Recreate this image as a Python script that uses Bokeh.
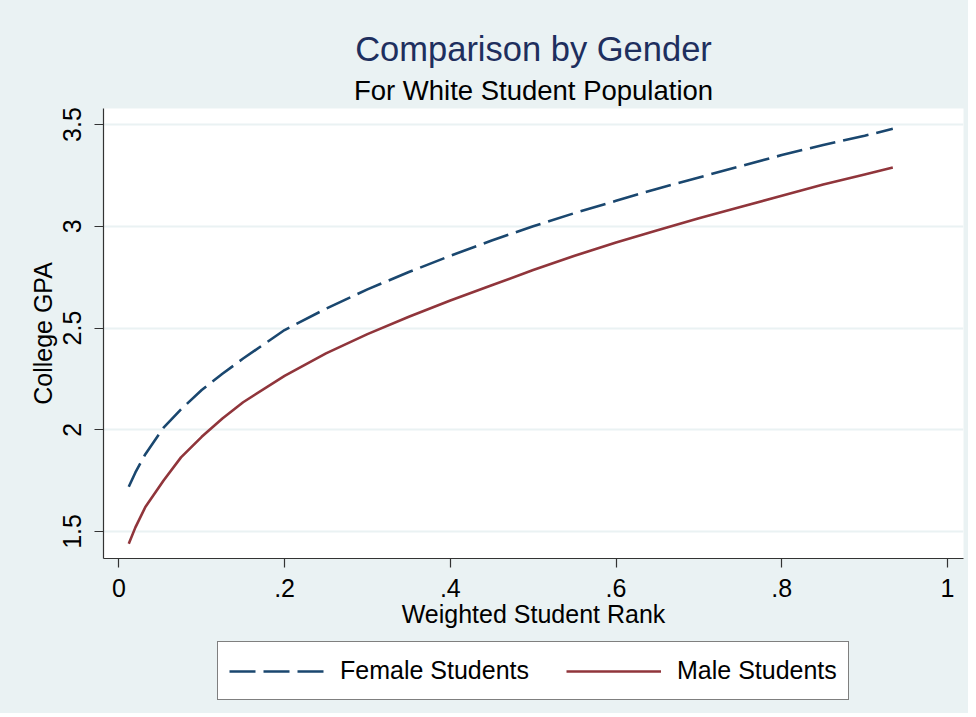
from bokeh.plotting import figure
from bokeh.layouts import column
from bokeh.models import (ColumnDataSource, Range1d, FixedTicker, Title, Legend,
                          LegendItem)
from bokeh.embed import file_html
from bokeh.resources import INLINE

# ---- data ----
rank = [0.012, 0.02, 0.032, 0.054, 0.075, 0.10, 0.125, 0.15, 0.20, 0.25, 0.30,
        0.35, 0.40, 0.45, 0.50, 0.55, 0.60, 0.65, 0.70, 0.75, 0.80, 0.85, 0.90,
        0.934]
female_gpa = [1.72, 1.79, 1.88, 2.01, 2.10, 2.195, 2.275, 2.35, 2.49, 2.595, 2.69,
              2.775, 2.855, 2.93, 3.00, 3.065, 3.125, 3.185, 3.24, 3.295, 3.35,
              3.40, 3.445, 3.479]
male_gpa = [1.44, 1.52, 1.62, 1.75, 1.864, 1.965, 2.055, 2.135, 2.265, 2.375, 2.47,
            2.555, 2.635, 2.71, 2.785, 2.855, 2.92, 2.98, 3.04, 3.095, 3.15,
            3.205, 3.255, 3.289]

x_ticks = [0, 0.2, 0.4, 0.6, 0.8, 1.0]
x_tick_labels = ["0", ".2", ".4", ".6", ".8", "1"]
y_ticks = [1.5, 2.0, 2.5, 3.0, 3.5]
y_tick_labels = ["1.5", "2", "2.5", "3", "3.5"]

series_names = ["Female Students", "Male Students"]
title_text = "Comparison by Gender"
subtitle_text = "For White Student Population"
x_label = "Weighted Student Rank"
y_label = "College GPA"

# ---- styles ----
BG = "#EAF2F3"
FEMALE_C = "#1A476F"
MALE_C = "#90353B"
TITLE_C = "#1E2F5E"
AXIS_C = "#333333"
FONT = "Liberation Sans"
FEMALE_DASH = "26 8"

src = ColumnDataSource(dict(x=rank, f=female_gpa, m=male_gpa))

p = figure(frame_width=860, frame_height=450, output_backend="svg",
           toolbar_location=None,
           x_range=Range1d(-0.0185, 1.0193), y_range=Range1d(1.367, 3.579),
           min_border_left=103, min_border_right=5, min_border_top=108,
           min_border_bottom=80, title=None)

p.border_fill_color = BG
p.background_fill_color = "white"
p.outline_line_color = None

# titles (first added is closest to frame)
p.add_layout(Title(text=subtitle_text, align="center", text_font=FONT,
                   text_font_size="27.5px", text_font_style="normal",
                   text_color="black", standoff=6), "above")
p.add_layout(Title(text=title_text, align="center", text_font=FONT,
                   text_font_size="34.5px", text_font_style="normal",
                   text_color=TITLE_C, standoff=4), "above")

p.line("x", "f", source=src, line_color=FEMALE_C, line_width=2.6,
       line_dash=FEMALE_DASH)
p.line("x", "m", source=src, line_color=MALE_C, line_width=2.6)

# axes
for ax in (p.xaxis[0], p.yaxis[0]):
    ax.axis_line_color = AXIS_C
    ax.axis_line_width = 1.2
    ax.major_tick_line_color = AXIS_C
    ax.major_tick_line_width = 1.2
    ax.major_tick_out = 9
    ax.major_tick_in = 0
    ax.minor_tick_line_color = None
    ax.major_label_text_font = FONT
    ax.major_label_text_font_size = "25px"
    ax.major_label_text_color = "black"
    ax.axis_label_text_font = FONT
    ax.axis_label_text_font_size = "25px"
    ax.axis_label_text_font_style = "normal"
    ax.axis_label_text_color = "black"

p.xaxis[0].ticker = FixedTicker(ticks=x_ticks)
p.xaxis[0].major_label_overrides = dict(zip(x_ticks, x_tick_labels))
p.xaxis[0].axis_label = x_label
p.xaxis[0].major_label_standoff = 11
p.xaxis[0].axis_label_standoff = 0

p.yaxis[0].ticker = FixedTicker(ticks=y_ticks)
p.yaxis[0].major_label_overrides = dict(zip(y_ticks, y_tick_labels))
p.yaxis[0].axis_label = y_label
p.yaxis[0].major_label_orientation = "vertical"
p.yaxis[0].major_label_standoff = 13
p.yaxis[0].axis_label_standoff = 4

p.xgrid.grid_line_color = None
p.ygrid.grid_line_color = BG
p.ygrid.grid_line_width = 2

# ---- legend strip below the plot ----
# same series drawn in a strip whose y-range lies above the data, so only the
# legend samples are visible
lg = figure(frame_width=860, frame_height=75, output_backend="svg",
            toolbar_location=None, x_axis_type=None, y_axis_type=None,
            min_border_left=103, min_border_right=5, min_border_top=0,
            min_border_bottom=0,
            x_range=Range1d(0, 1), y_range=Range1d(10, 11), title=None)
lg.border_fill_color = BG
lg.background_fill_color = BG
lg.outline_line_color = None
lg.grid.grid_line_color = None

fl = lg.line("x", "f", source=src, line_color=FEMALE_C, line_width=2.6,
             line_dash=FEMALE_DASH)
ml = lg.line("x", "m", source=src, line_color=MALE_C, line_width=2.6)

legend = Legend(items=[LegendItem(label=series_names[0], renderers=[fl]),
                       LegendItem(label=series_names[1], renderers=[ml])],
                orientation="horizontal", location=(114, 13),
                label_text_font=FONT, label_text_font_size="25px",
                label_text_color="black",
                glyph_width=95, glyph_height=30, label_height=35,
                label_standoff=16, spacing=37, padding=11, margin=0,
                border_line_color="black", border_line_width=1,
                background_fill_color="white", background_fill_alpha=1.0)
lg.add_layout(legend, "center")

layout = column(p, lg, spacing=0, styles={"background-color": BG})

open("out.html", "w").write(file_html(layout, INLINE))
